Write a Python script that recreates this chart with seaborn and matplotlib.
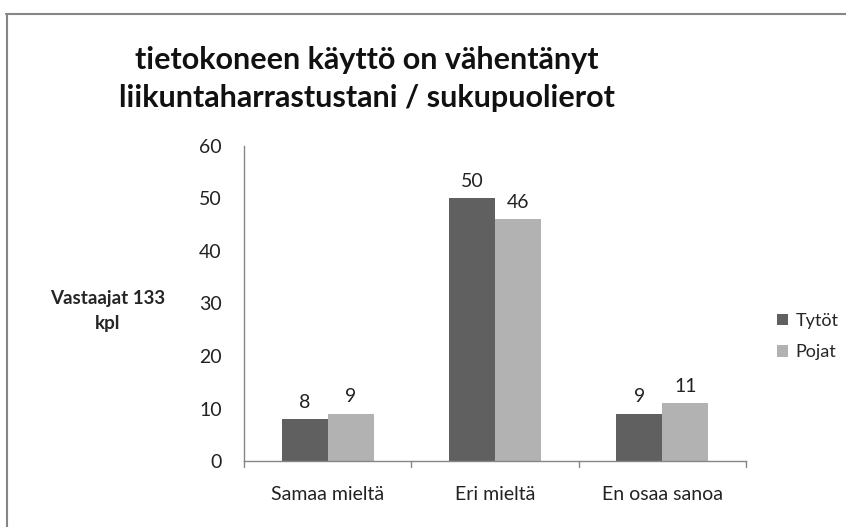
import pandas as pd
import matplotlib.pyplot as plt
import seaborn as sns
from matplotlib.lines import Line2D

# Data
categories = ['Samaa mieltä', 'Eri mieltä', 'En osaa sanoa']
tytot = [8, 50, 9]
pojat = [9, 46, 11]
series_names = ['Tytöt', 'Pojat']
yticks = [0, 10, 20, 30, 40, 50, 60]

df = pd.DataFrame({
    'kategoria': categories * 2,
    'sukupuoli': [series_names[0]] * 3 + [series_names[1]] * 3,
    'maara': tytot + pojat,
})

sns.set_style('white')
plt.rcParams['font.family'] = ['Lato', 'DejaVu Sans']

fig = plt.figure(figsize=(8.46, 5.27), dpi=100)
ax = fig.add_axes([0.2884, 0.1252, 0.5935, 0.5978])

palette = {'Tytöt': '#606060', 'Pojat': '#b2b2b2'}
sns.barplot(data=df, x='kategoria', y='maara', hue='sukupuoli',
            palette=palette, width=0.55, saturation=1, linewidth=0, ax=ax)

# Arvot pylväiden päälle
for cont in ax.containers:
    ax.bar_label(cont, padding=6, fontsize=14, color='#222222')

ax.set_ylim(0, 60)
ax.set_yticks(yticks)
ax.set_xlim(-0.5, 2.5)
ax.set_xlabel('')
ax.set_ylabel('')
ax.tick_params(axis='y', labelsize=14, length=0, pad=16, colors='#222222')
ax.tick_params(axis='x', labelsize=14, length=0, pad=18, colors='#222222')

# Kategorioiden väliset tikit
for xv in [-0.5, 0.5, 1.5, 2.5]:
    ax.plot([xv, xv], [0, -1.2], color='#868686', lw=1, clip_on=False)

for s in ['top', 'right']:
    ax.spines[s].set_visible(False)
for s in ['left', 'bottom']:
    ax.spines[s].set_color('#868686')
    ax.spines[s].set_linewidth(1)

ax.legend(handles=ax.get_legend_handles_labels()[0], labels=series_names,
          loc='center left', bbox_to_anchor=(1.03, 0.395), frameon=False,
          fontsize=13, handlelength=0.6, handleheight=0.6,
          handletextpad=0.4, labelspacing=0.85)

fig.text(0.434, 0.85, 'tietokoneen käyttö on vähentänyt\nliikuntaharrastustani / sukupuolierot',
         ha='center', va='center', fontsize=22, fontweight='bold',
         linespacing=1.45, color='#111111')

fig.text(0.127, 0.41, 'Vastaajat 133\nkpl', ha='center', va='center',
         fontsize=13.5, fontweight='bold', linespacing=1.6)

# Kehys
fig.add_artist(Line2D([6.5 / 846, 6.5 / 846], [0, 1 - 13.5 / 527],
                      transform=fig.transFigure, color='#868686', lw=1.5))
fig.add_artist(Line2D([6 / 846, 1], [1 - 13.5 / 527, 1 - 13.5 / 527],
                      transform=fig.transFigure, color='#868686', lw=1.5))

plt.savefig('out.png', dpi=100)
